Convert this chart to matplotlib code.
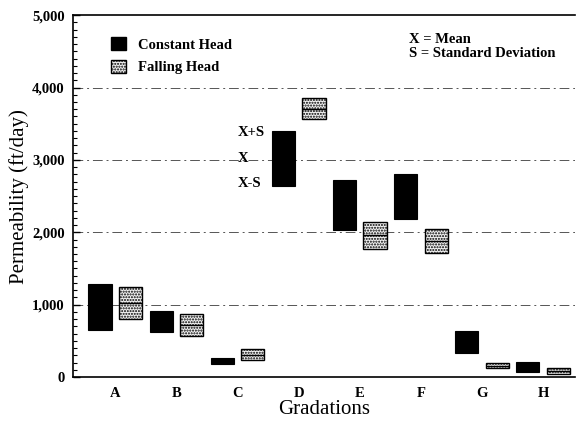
import matplotlib
matplotlib.use('Agg')
import matplotlib.pyplot as plt
from matplotlib.patches import Patch
from matplotlib.ticker import MultipleLocator, FuncFormatter
import numpy as np

plt.rcParams['font.family'] = ['Liberation Serif', 'DejaVu Serif']

# permeability (ft/day), mean and standard deviation per gradation
gradations = ['A', 'B', 'C', 'D', 'E', 'F', 'G', 'H']
const_mean = [970, 770, 220, 3020, 2375, 2500, 480, 140]
const_sd = [320, 145, 45, 380, 345, 310, 155, 70]
fall_mean = [1025, 720, 310, 3705, 1960, 1880, 155, 80]
fall_sd = [220, 150, 80, 145, 185, 172, 35, 40]

const_mean = np.array(const_mean)
const_sd = np.array(const_sd)
fall_mean = np.array(fall_mean)
fall_sd = np.array(fall_sd)

fig = plt.figure(figsize=(5.76, 4.21), dpi=100)
ax = fig.add_axes([0.127, 0.1045, 0.871, 0.8595])

x = np.arange(len(gradations))
off = 0.25
w = 0.38

ax.bar(x - off, 2 * const_sd, w, bottom=const_mean - const_sd,
       color='black', edgecolor='black', linewidth=0.8, zorder=3)
ax.bar(x + off, 2 * fall_sd, w, bottom=fall_mean - fall_sd,
       color='#f2f2f2', edgecolor='black', hatch='......', linewidth=1.0, zorder=3)
ax.hlines(fall_mean, x + off - w / 2, x + off + w / 2, color='black', linewidth=1.0, zorder=4)

# gridlines
for g in [1000, 2000, 3000, 4000]:
    ax.axhline(g, color='#555555', linewidth=0.7, linestyle=(0, (10, 4, 2, 4)), zorder=1)

ax.set_xlim(-0.69, 7.52)
ax.set_ylim(0, 5000)
ax.set_xticks(x)
ax.set_xticklabels(gradations, fontweight='bold', fontsize=10.5)
ax.tick_params(axis='x', length=0, pad=7)
ax.yaxis.set_major_locator(MultipleLocator(1000))
ax.yaxis.set_minor_locator(MultipleLocator(100))
ax.yaxis.set_major_formatter(FuncFormatter(lambda v, p: f'{int(v):,}'))
ax.tick_params(axis='y', which='major', direction='in', length=5, width=1.0, labelsize=10.5, pad=6)
ax.tick_params(axis='y', which='minor', direction='in', length=3, width=0.8)
for lab in ax.get_yticklabels():
    lab.set_fontweight('bold')

ax.spines['right'].set_visible(False)
for s in ['left', 'bottom', 'top']:
    ax.spines[s].set_linewidth(1.2)

ax.set_ylabel('Permeability (ft/day)', fontsize=15, labelpad=2)
ax.set_xlabel('Gradations', fontsize=15, labelpad=0)

# legend
handles = [Patch(facecolor='black', edgecolor='black'),
           Patch(facecolor='#f2f2f2', edgecolor='black', hatch='......')]
leg = ax.legend(handles, ['Constant Head', 'Falling Head'], loc='upper left',
                bbox_to_anchor=(0.05, 0.975), frameon=False, handlelength=1.0,
                handleheight=1.0, handletextpad=0.8, labelspacing=0.55,
                prop={'weight': 'bold', 'size': 10.5})

ax.text(0.67, 0.95, 'X = Mean\nS = Standard Deviation', transform=ax.transAxes,
        ha='left', va='top', fontsize=10.5, fontweight='bold', linespacing=1.1)

# labels beside gradation D constant-head bar
d = 3
ax.text(x[d] - 0.99, const_mean[d] + const_sd[d] - 20, 'X+S', ha='left', va='center',
        fontsize=10.5, fontweight='bold')
ax.text(x[d] - 0.99, const_mean[d], 'X', ha='left', va='center',
        fontsize=10.5, fontweight='bold')
ax.text(x[d] - 0.99, const_mean[d] - const_sd[d] + 40, 'X-S', ha='left', va='center',
        fontsize=10.5, fontweight='bold')

plt.savefig('out.png', dpi=100)
